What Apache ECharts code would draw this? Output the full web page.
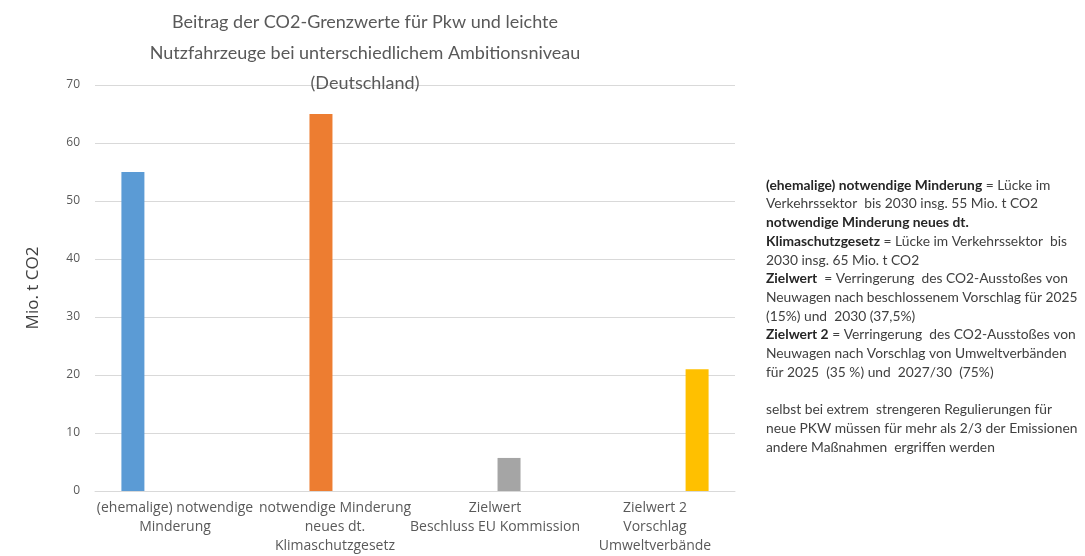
<!DOCTYPE html>
<html>
<head>
<meta charset="utf-8">
<script src="https://cdn.jsdelivr.net/npm/echarts@6/dist/echarts.min.js"></script>
<style>
  html, body { margin: 0; padding: 0; background: #ffffff; }
  #chart { width: 1085px; height: 556px; }
</style>
</head>
<body>
<div id="chart"></div>
<script>
// Kategorien (x-Achse)
const categories = [
  '(ehemalige) notwendige\nMinderung',
  'notwendige Minderung\nneues dt.\nKlimaschutzgesetz',
  'Zielwert\nBeschluss EU Kommission',
  'Zielwert 2\nVorschlag\nUmweltverbände'
];

// Eine Reihe je Kategorie (Mio. t CO2)
const seriesNames = ['ehemalige Minderung', 'Minderung KSG', 'Zielwert', 'Zielwert 2'];
const valuesAlt      = [55, null, null, null];
const valuesKSG      = [null, 65, null, null];
const valuesZiel     = [null, null, 5.7, null];
const valuesZiel2    = [null, null, null, 21];
const seriesColors   = ['#5B9BD5', '#ED7D31', '#A5A5A5', '#FFC000'];

// Achse
const yMin = 0, yMax = 70, yStep = 10;

// Erläuterungstext rechts
const noteLines = [
  '{b|(ehemalige) notwendige Minderung} = Lücke im',
  'Verkehrssektor  bis 2030 insg. 55 Mio. t CO2',
  '{b|notwendige Minderung neues dt.}',
  '{b|Klimaschutzgesetz} = Lücke im Verkehrssektor  bis',
  '2030 insg. 65 Mio. t CO2',
  '{b|Zielwert}  = Verringerung  des CO2-Ausstoßes von',
  'Neuwagen nach beschlossenem Vorschlag für 2025',
  '(15%) und  2030 (37,5%)',
  '{b|Zielwert 2} = Verringerung  des CO2-Ausstoßes von',
  'Neuwagen nach Vorschlag von Umweltverbänden',
  'für 2025  (35 %) und  2027/30  (75%)',
  ' ',
  'selbst bei extrem  strengeren Regulierungen für',
  'neue PKW müssen für mehr als 2/3 der Emissionen',
  'andere Maßnahmen  ergriffen werden'
];

const chart = echarts.init(document.getElementById('chart'));

const seriesData = [valuesAlt, valuesKSG, valuesZiel, valuesZiel2];

chart.setOption({
  backgroundColor: '#ffffff',
  animation: false,
  title: [
    {
      text: 'Beitrag der CO2-Grenzwerte für Pkw und leichte\nNutzfahrzeuge bei unterschiedlichem Ambitionsniveau\n(Deutschland)',
      left: 365,
      top: 7,
      padding: 0,
      textAlign: 'center',
      textStyle: {
        fontFamily: 'Lato',
        fontSize: 18,
        fontWeight: 'normal',
        color: '#595959',
        lineHeight: 30.5
      }
    },
    {
      text: noteLines.join('\n'),
      left: 766,
      top: 176,
      padding: 0,
      textStyle: {
        fontFamily: 'Lato',
        fontSize: 13.8,
        fontWeight: 'normal',
        color: '#404040',
        lineHeight: 18.7,
        rich: {
          b: {
            fontFamily: 'Lato',
            fontSize: 13.8,
            fontWeight: 'bold',
            color: '#262626',
            lineHeight: 18.7
          }
        }
      }
    }
  ],
  grid: { left: 95, right: 350, top: 85, bottom: 64, containLabel: false },
  xAxis: {
    type: 'category',
    data: categories,
    axisLine: { lineStyle: { color: '#d9d9d9', width: 1 } },
    axisTick: { show: false },
    axisLabel: {
      interval: 0,
      margin: 8,
      fontFamily: 'Open Sans',
      fontSize: 14,
      color: '#595959',
      lineHeight: 19
    }
  },
  yAxis: {
    type: 'value',
    min: yMin,
    max: yMax,
    interval: yStep,
    name: 'Mio. t CO2',
    nameLocation: 'middle',
    nameRotate: 90,
    nameGap: 53,
    nameTextStyle: { fontFamily: 'Open Sans', fontSize: 17, color: '#404040' },
    axisLine: { show: false },
    axisTick: { show: false },
    axisLabel: { fontFamily: 'Open Sans', fontSize: 12, color: '#595959', margin: 15 },
    splitLine: { lineStyle: { color: '#d9d9d9', width: 1 } }
  },
  series: seriesData.map((vals, i) => ({
    name: seriesNames[i],
    type: 'bar',
    data: vals,
    barWidth: 23,
    barGap: '22%',
    itemStyle: { color: seriesColors[i] }
  }))
});
</script>
</body>
</html>
